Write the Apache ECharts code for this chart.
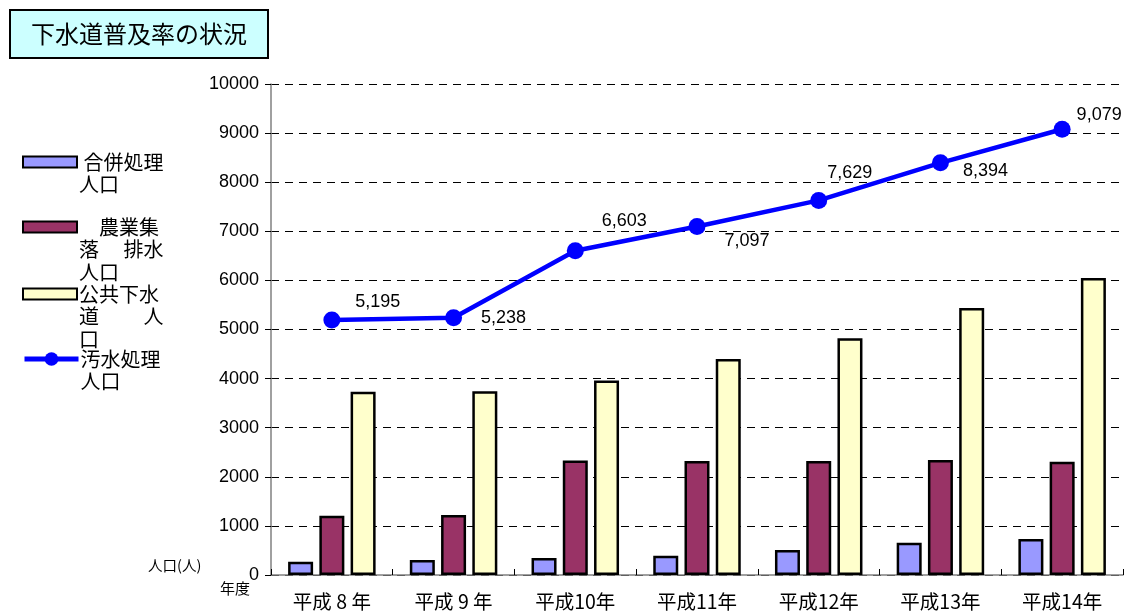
<!DOCTYPE html>
<html><head><meta charset="utf-8">
<script src="https://cdn.jsdelivr.net/npm/echarts@6/dist/echarts.min.js"></script>
<style>html,body{margin:0;padding:0;background:#fff}#c{width:1127px;height:612px}</style>
</head><body><div id="c"></div>
<script>
const categories = ['平成 8 年', '平成 9 年', '平成10年', '平成11年', '平成12年', '平成13年', '平成14年'];
const gappei = [270, 305, 346, 393, 509, 658, 733];
const nougyou = [1207, 1222, 2330, 2322, 2322, 2340, 2308];
const koukyou = [3733, 3740, 3960, 4399, 4821, 5438, 6049];
const osui = [5195, 5238, 6603, 7097, 7629, 8394, 9079];
const yTicks = [0, 1000, 2000, 3000, 4000, 5000, 6000, 7000, 8000, 9000, 10000];
const seriesNames = ['合併処理人口', '農業集落排水人口', '公共下水道人口', '汚水処理人口'];
const legendText = [[' 合併処理', '人口'], ['　農業集', '落　 排水', '人口'], ['公共下水', '道　　 人', '口'], ['汚水処理', '人口']];
const labelOffsets = [[46, -18], [50, 0], [49, -30], [50, 14], [31, -27], [45, 8], [37, -14]];

const FONT = '"Liberation Sans", Arial, "Noto Sans CJK JP", sans-serif';
const CJK = '"Noto Sans CJK JP", sans-serif';
const LH = 22.5;
const legendIconY = [162, 227, 294, 359];

const chart = echarts.init(document.getElementById('c'));
const legends = seriesNames.map((nm, i) => {
  const lines = legendText[i];
  const n = lines.length;
  const total = 2 * n - 1;
  const blockH = total * LH;
  const lg = {
    data: [{ name: nm, icon: i === 3 ? undefined : 'rect' }],
    left: 22,
    top: legendIconY[i] - blockH / 2,
    padding: 0,
    itemWidth: 54,
    itemHeight: i === 3 ? 17 : 11,
    itemGap: 0,
    selectedMode: false,
    formatter: function () {
      const pre = [];
      for (let k = 0; k < n - 1; k++) pre.push(' ');
      return pre.concat(lines).join('\n');
    },
    textStyle: { fontFamily: CJK, fontSize: 20, color: '#000', lineHeight: LH, padding: [0, 0, 0, -3] }
  };
  if (i === 3) lg.lineStyle = { width: 5, color: '#0000ff' };
  return lg;
});

const barStyle = (c) => ({ color: c, borderColor: '#000', borderWidth: 2.5 });

chart.setOption({
  animation: false,
  title: {
    text: '下水道普及率の状況',
    left: 10, top: 10,
    padding: [12, 21, 12, 21],
    backgroundColor: '#ccffff',
    borderColor: '#000',
    borderWidth: 2,
    textStyle: { fontFamily: CJK, fontSize: 24, fontWeight: 'normal', color: '#000' }
  },
  legend: legends,
  grid: { left: 271, right: 4, top: 84, bottom: 37 },
  xAxis: {
    type: 'category',
    data: categories,
    axisLine: { lineStyle: { color: '#808080', width: 1.5 } },
    axisTick: { show: true, inside: true, length: 6, lineStyle: { color: '#000' } },
    axisLabel: { fontFamily: CJK, fontSize: 19.5, color: '#000', margin: 17 }
  },
  yAxis: {
    type: 'value',
    min: 0, max: 10000, interval: 1000,
    axisLine: { show: true, lineStyle: { color: '#808080', width: 1.5 } },
    axisTick: { show: true, length: 6, lineStyle: { color: '#000' } },
    axisLabel: { fontFamily: FONT, fontSize: 18, color: '#000', margin: 12,
      formatter: v => yTicks.includes(v) ? String(v) : '' },
    splitLine: { lineStyle: { color: '#000', type: [8, 6], width: 1 } }
  },
  graphic: [
    { type: 'text', left: 148, top: 558, style: { text: '人口(人)', font: '14.5px ' + CJK, fill: '#000' } },
    { type: 'text', left: 220, top: 581, style: { text: '年度', font: '15px ' + CJK, fill: '#000' } }
  ],
  series: [
    { name: seriesNames[0], type: 'bar', data: gappei, barWidth: 25, barGap: '25%', itemStyle: barStyle('#9999ff') },
    { name: seriesNames[1], type: 'bar', data: nougyou, barWidth: 25, barGap: '25%', itemStyle: barStyle('#993366') },
    { name: seriesNames[2], type: 'bar', data: koukyou, barWidth: 25, barGap: '25%', itemStyle: barStyle('#ffffcc') },
    {
      name: seriesNames[3], type: 'line',
      data: osui.map((v, i) => ({ value: v, label: { offset: labelOffsets[i] } })),
      symbol: 'circle', symbolSize: 17,
      itemStyle: { color: '#0000ff' },
      lineStyle: { color: '#0000ff', width: 4.5 },
      label: { show: true, position: 'inside', fontFamily: FONT, fontSize: 18, color: '#000',
        formatter: p => p.value.toLocaleString('en-US') },
      z: 5
    }
  ]
});
</script></body></html>
